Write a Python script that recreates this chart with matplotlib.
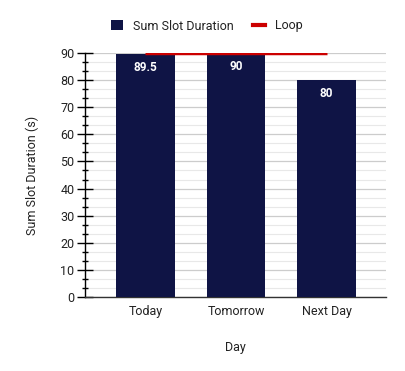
import matplotlib
matplotlib.use("Agg")
import matplotlib.pyplot as plt
from matplotlib.ticker import MultipleLocator
from matplotlib.lines import Line2D
from matplotlib.patches import Patch

plt.rcParams['font.family'] = ['Roboto', 'DejaVu Sans']

categories = ["Today", "Tomorrow", "Next Day"]
sum_slot = [89.5, 90, 80]
loop = [90, 90, 90]
value_labels = ["89.5", "90", "80"]

fig = plt.figure(figsize=(4.05, 3.71), dpi=100)
ax = fig.add_axes([85/405, 1-297/371, 301/405, 244/371])

x = list(range(len(categories)))
bars = ax.bar(x, sum_slot, width=0.65, color="#0f1445", zorder=3)
ax.plot(x, loop, color="#cc0000", lw=2.5, zorder=4, solid_capstyle="butt")

for xi, v, lab in zip(x, sum_slot, value_labels):
    ax.text(xi, v - 5.0, lab, ha="center", va="center", color="white",
            fontsize=8.5, fontweight="bold", zorder=5)

ax.set_xlim(-0.668, 2.657)
ax.set_ylim(0, 90)
ax.yaxis.set_major_locator(MultipleLocator(10))
ax.yaxis.set_minor_locator(MultipleLocator(10/3))
ax.set_xticks(x)
ax.set_xticklabels(categories)

ax.grid(axis="y", which="major", color="#cccccc", lw=0.9, zorder=0)
ax.grid(axis="y", which="minor", color="#e8e8e8", lw=0.8, zorder=0)
ax.set_axisbelow(True)

for s in ["top", "right"]:
    ax.spines[s].set_visible(False)
ax.spines["left"].set_color("black")
ax.spines["left"].set_linewidth(1)
ax.spines["bottom"].set_color("#333333")
ax.spines["bottom"].set_linewidth(1)

ax.tick_params(axis="y", which="major", direction="inout", length=11, width=1, labelsize=9, colors="black", pad=2)
ax.tick_params(axis="y", which="minor", direction="inout", length=5, width=1, colors="black")
ax.tick_params(axis="x", length=0, labelsize=9, pad=6, labelcolor="#222222")
for t in ax.get_yticklabels():
    t.set_color("#222222")

ax.set_ylabel("Sum Slot Duration (s)", fontsize=9, labelpad=15, color="#222222")
ax.set_xlabel("Day", fontsize=9, labelpad=16, color="#222222")

handles = [Patch(facecolor="#0f1445", edgecolor="none"),
           Line2D([0], [0], color="#cc0000", lw=3)]
fig.legend(handles, ["Sum Slot Duration", "Loop"], loc="center",
           bbox_to_anchor=(207/405, 1-26/371), ncol=2, frameon=False,
           fontsize=9, handlelength=0.9, handleheight=0.9, columnspacing=1.6,
           handletextpad=0.8, labelcolor="#222222")

fig.savefig("out.png", dpi=100)
